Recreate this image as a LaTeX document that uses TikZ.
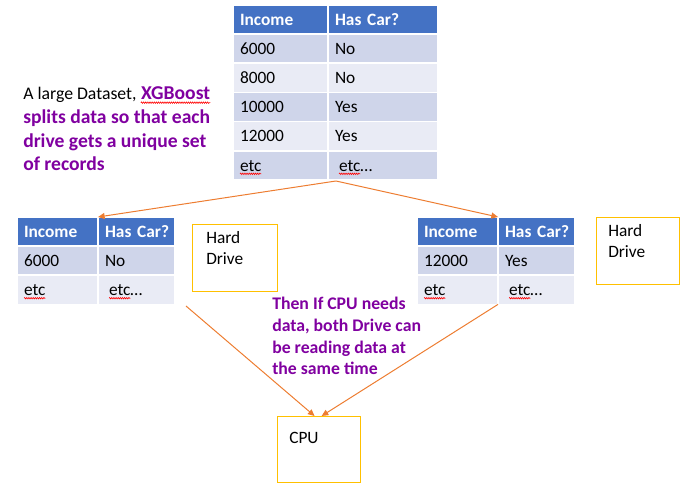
\documentclass[tikz,border=0pt]{standalone}
\usepackage{fontspec}
\setmainfont{Carlito}
\usetikzlibrary{positioning,arrows.meta,decorations.pathmorphing}

\definecolor{hdrblue}{HTML}{4472C4}
\definecolor{rowdark}{HTML}{CFD5EA}
\definecolor{rowlight}{HTML}{E9EBF5}
\definecolor{boxgold}{HTML}{FFC000}
\definecolor{feedorange}{HTML}{ED7D31}
\definecolor{notepurple}{HTML}{8000A0}

\newcommand{\diagfont}{\fontsize{13pt}{16pt}\selectfont}

\tikzset{
  cell/.style={draw=white, line width=1.2pt, anchor=north west, align=left,
    inner xsep=5.25pt, inner ysep=0pt, outer sep=0pt, minimum height=21.85pt,
    text height=8.6pt, text depth=0pt, font=\diagfont},
  hdr/.style={cell, fill=hdrblue, text=white, font=\diagfont\bfseries},
  topcolA/.style={text width=60.75pt},
  topcolB/.style={text width=72pt},
  smallcolA/.style={text width=50.25pt},
  smallcolB/.style={text width=47.25pt},
  note/.style={inner sep=0pt, font=\diagfont},
  notebold/.style={text=notepurple, font=\diagfont\bfseries},
  hdbox/.style={draw=boxgold, line width=0.9pt, anchor=north west, inner sep=0pt},
  feed/.style={draw=feedorange, line width=0.75pt, -{Triangle[length=5pt, width=4.5pt]}},
  spell/.style={draw=red, line width=0.45pt, decorate,
    decoration={snake, amplitude=0.55pt, segment length=1.6pt}}
}

% red wavy line under a word of a node
\newcommand{\spellline}[3]{\draw[spell] ([xshift=#2, yshift=-2pt]#1.base west) -- ++(#3,0);}

\begin{document}
\begin{tikzpicture}[x=0.75pt, y=-0.75pt]
\useasboundingbox (0,0) rectangle (690,498);

% the whole dataset
\node[hdr, topcolA] (top-h1) at (233,5) {Income};
\node[hdr, topcolB, right=0pt of top-h1] (top-h2) {Has~Car?};
\foreach \inc/\car [count=\i] in {6000/No, 8000/No, 10000/Yes, 12000/Yes, etc/\hspace{3pt}etc…} {
  \ifodd\i\relax \def\shade{rowdark}\else \def\shade{rowlight}\fi
  \node[cell, topcolA, fill=\shade] (top-r\i-a) at (233,{5+29.17*\i}) {\inc};
  \node[cell, topcolB, fill=\shade, right=0pt of top-r\i-a] (top-r\i-b) {\car};
}
\spellline{top-r5-a}{5.25pt}{16pt}
\spellline{top-r5-b}{8.25pt}{16pt}

% left drive part
\node[hdr, smallcolA] (lt-h1) at (17,217) {Income};
\node[hdr, smallcolB, right=0pt of lt-h1] (lt-h2) {Has~Car?};
\node[cell, smallcolA, fill=rowdark, below=0pt of lt-h1] (lt-r1-a) {6000};
\node[cell, smallcolB, fill=rowdark, below=0pt of lt-h2] (lt-r1-b) {No};
\node[cell, smallcolA, fill=rowlight, below=0pt of lt-r1-a] (lt-r2-a) {etc};
\node[cell, smallcolB, fill=rowlight, below=0pt of lt-r1-b] (lt-r2-b) {\hspace{3pt}etc…};
\spellline{lt-r2-a}{5.25pt}{16pt}
\spellline{lt-r2-b}{8.25pt}{16pt}

% right drive part
\node[hdr, smallcolA] (rt-h1) at (417,217) {Income};
\node[hdr, smallcolB, right=0pt of rt-h1] (rt-h2) {Has~Car?};
\node[cell, smallcolA, fill=rowdark, below=0pt of rt-h1] (rt-r1-a) {12000};
\node[cell, smallcolB, fill=rowdark, below=0pt of rt-h2] (rt-r1-b) {Yes};
\node[cell, smallcolA, fill=rowlight, below=0pt of rt-r1-a] (rt-r2-a) {etc};
\node[cell, smallcolB, fill=rowlight, below=0pt of rt-r1-b] (rt-r2-b) {\hspace{3pt}etc…};
\spellline{rt-r2-a}{5.25pt}{16pt}
\spellline{rt-r2-b}{8.25pt}{16pt}

% drives and cpu
\node[hdbox, minimum width=63.75pt, minimum height=50.25pt] (hd-left) at (192,224) {};
\node[note, anchor=base west, align=left] (hd-left-text) at (206,265) {Hard\\Drive};
\node[hdbox, minimum width=62.25pt, minimum height=50.25pt] (hd-right) at (596,217) {};
\node[note, anchor=base west, align=left] (hd-right-text) at (608,258) {Hard\\Drive};
\node[hdbox, minimum width=62.25pt, minimum height=49.5pt] (cpu) at (277,416) {};
\node[note, anchor=base west] (cpu-text) at (289,444) {CPU};

% notes
\node[note, anchor=base west, font=\fontsize{13.3pt}{16pt}\selectfont] (note-a) at (23,100) {A large Dataset,};
\node[note, notebold, anchor=base west, font=\fontsize{14.7pt}{17.6pt}\selectfont\bfseries]
  (note-xgb) at ([xshift=3pt]note-a.base east) {XGBoost};
\draw[spell] ([yshift=-2pt]note-xgb.base west) -- ([yshift=-2pt]note-xgb.base east);
\node[note, notebold, anchor=base west, align=left, font=\fontsize{14.7pt}{17.6pt}\selectfont\bfseries]
  (note-b) at (23,170.5) {splits data so that each\\drive gets a unique set\\of records};
\node[note, notebold, anchor=base west, align=left, font=\fontsize{13.3pt}{16.3pt}\selectfont\bfseries]
  (note-cpu) at (272,375) {Then If CPU needs\\data, both Drive can\\be reading data at\\the same time};

% arrows
\coordinate (split) at (336,181);
\coordinate (lt-out) at (186,306);
\draw[feed] (split) -- (lt-h1.north east);
\draw[feed] (split) -- (rt-h1.north east);
\draw[feed] (lt-out) -- ([xshift=-3.4pt]cpu.north);
\draw[feed] (rt-r2-a.south east) -- ([xshift=1.9pt]cpu.north);
\end{tikzpicture}
\end{document}
